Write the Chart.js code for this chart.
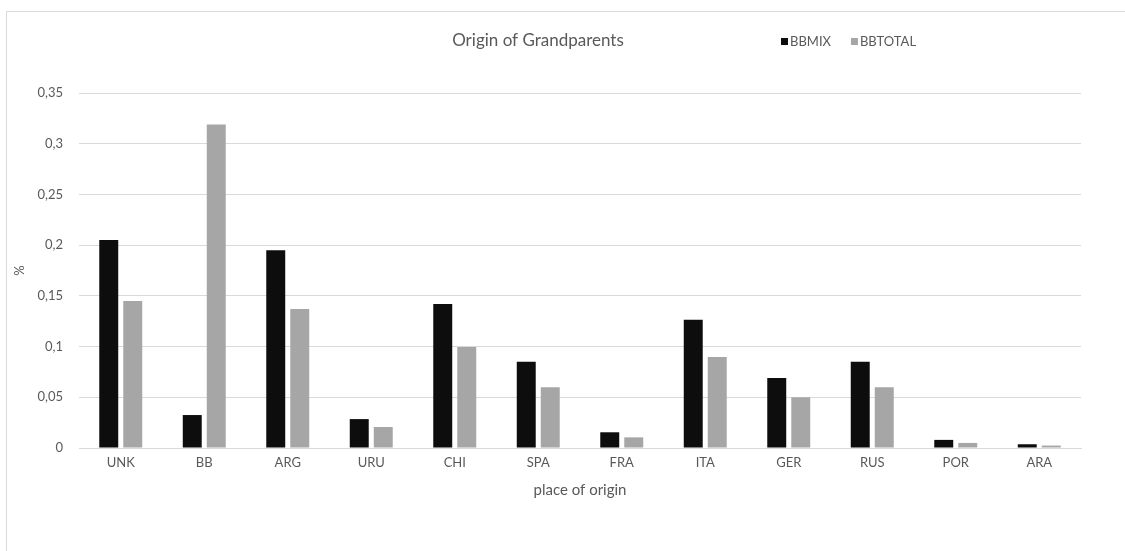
<!DOCTYPE html>
<html>
<head>
<meta charset="utf-8">
<script src="https://cdn.jsdelivr.net/npm/chart.js@4/dist/chart.umd.min.js"></script>
<style>
  html, body { margin: 0; padding: 0; background: #ffffff; }
  #wrap { width: 1125px; height: 551px; position: relative; }
</style>
</head>
<body>
<div id="wrap"><canvas id="c" width="1125" height="551"></canvas></div>
<script>
// Share of grandparents by place of origin
const categories = ['UNK', 'BB', 'ARG', 'URU', 'CHI', 'SPA', 'FRA', 'ITA', 'GER', 'RUS', 'POR', 'ARA'];
const bbmix   = [0.205, 0.0325, 0.195, 0.0285, 0.142, 0.085, 0.0155, 0.1265, 0.069, 0.085, 0.008, 0.0037];
const bbtotal = [0.145, 0.319, 0.137, 0.0207, 0.0995, 0.0598, 0.0105, 0.0897, 0.05, 0.0598, 0.005, 0.0024];
const yTickLabels = ['0', '0,05', '0,1', '0,15', '0,2', '0,25', '0,3', '0,35'];

const FONT = 'Lato, "Open Sans", "DejaVu Sans", sans-serif';
const TEXT = '#595959';

// Title, legend and frame lines drawn on top of the canvas
const decor = {
  id: 'decor',
  afterDraw(chart) {
    const ctx = chart.ctx;
    ctx.save();
    // frame
    ctx.strokeStyle = '#d9d9d9';
    ctx.lineWidth = 1;
    ctx.beginPath();
    ctx.moveTo(6.5, 551);
    ctx.lineTo(6.5, 11.5);
    ctx.lineTo(1125, 11.5);
    ctx.stroke();
    // title
    ctx.fillStyle = TEXT;
    ctx.font = '17px ' + FONT;
    ctx.textAlign = 'center';
    ctx.textBaseline = 'middle';
    ctx.fillText('Origin of Grandparents', 538, 41);
    // legend
    ctx.font = '13px ' + FONT;
    ctx.textAlign = 'left';
    let x = 781;
    chart.data.datasets.forEach(ds => {
      ctx.fillStyle = ds.backgroundColor;
      ctx.fillRect(x, 38, 7, 7);
      ctx.fillStyle = TEXT;
      ctx.fillText(ds.label, x + 9, 42);
      x += 9 + ctx.measureText(ds.label).width + 20;
    });
    ctx.restore();
  }
};

new Chart(document.getElementById('c'), {
  type: 'bar',
  data: {
    labels: categories,
    datasets: [
      { label: 'BBMIX', data: bbmix, backgroundColor: '#0d0d0d' },
      { label: 'BBTOTAL', data: bbtotal, backgroundColor: '#a6a6a6' }
    ]
  },
  options: {
    responsive: false,
    animation: false,
    devicePixelRatio: 1,
    layout: { padding: { left: 0, right: 44, top: 93, bottom: 0 } },
    datasets: {
      bar: { categoryPercentage: 0.575, barPercentage: 0.79 }
    },
    plugins: {
      legend: { display: false },
      title: { display: false },
      tooltip: { enabled: false }
    },
    scales: {
      x: {
        grid: { display: false, drawTicks: false },
        border: { display: true, color: '#d9d9d9' },
        ticks: { color: TEXT, font: { family: FONT, size: 13 }, padding: 7, maxRotation: 0 },
        title: { display: true, text: 'place of origin', color: TEXT, font: { family: FONT, size: 15 }, padding: { top: 0, bottom: 52 } },
        afterFit(scale) { scale.height = 103; }
      },
      y: {
        min: 0,
        max: 0.35,
        grid: { color: '#d9d9d9', drawTicks: false },
        border: { display: false },
        ticks: {
          stepSize: 0.05,
          color: TEXT,
          font: { family: FONT, size: 13 },
          padding: 16,
          callback(value, index) { return yTickLabels[index]; }
        },
        title: { display: true, text: '%', color: TEXT, font: { family: FONT, size: 13 }, padding: { top: 12, bottom: 0 } },
        afterFit(scale) { scale.width = 79; }
      }
    }
  },
  plugins: [decor]
});
</script>
</body>
</html>
